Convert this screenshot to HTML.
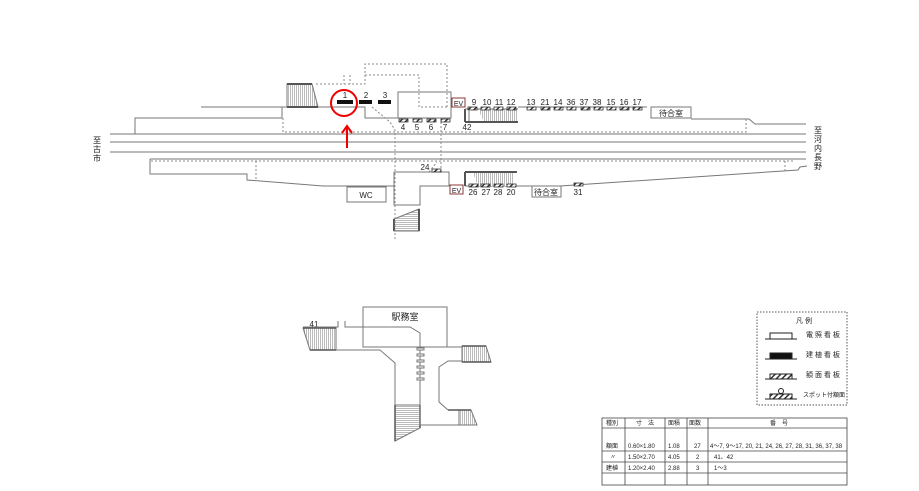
<!DOCTYPE html>
<html><head><meta charset="utf-8"><style>
html,body{margin:0;padding:0;background:#fff;}
svg{display:block;font-family:"Liberation Sans","Noto Sans CJK JP",sans-serif;}
</style></head><body>
<svg width="919" height="491" viewBox="0 0 919 491" xmlns="http://www.w3.org/2000/svg">
<defs>
<pattern id="vs" width="2" height="4" patternUnits="userSpaceOnUse"><rect width="2" height="4" fill="#fff"/><rect width="1" height="4" fill="#bbb"/></pattern>
<pattern id="hs" width="4" height="2" patternUnits="userSpaceOnUse"><rect width="4" height="2" fill="#fff"/><rect width="4" height="1" fill="#bbb"/></pattern>
<pattern id="hatch" width="4" height="4" patternUnits="userSpaceOnUse" patternTransform="rotate(45)"><rect width="4" height="4" fill="#fff"/><rect width="1.5" height="4" fill="#333"/></pattern>
</defs>
<g fill="none" stroke="#777" stroke-width="1">
<line x1="110" y1="134" x2="806" y2="134"/>
<line x1="110" y1="142" x2="806" y2="142"/>
<line x1="110" y1="152" x2="806" y2="152"/>
<polyline points="201,107 282,107 282,118 135,118 135,134"/>
<polyline points="282,107 365,107 365,118 398,118"/>
<rect x="398" y="92" width="53" height="26"/>
<polyline points="518,107 647,107"/>
<polyline points="691,119 749,119 755,124 806,124"/>
<rect x="651" y="107" width="40" height="11"/>
<polygon points="287,84 312,84 318,107 287,107" fill="url(#vs)"/>
<line x1="287" y1="84" x2="312" y2="84" stroke="#555" stroke-width="2"/>
<line x1="287" y1="107" x2="318" y2="107" stroke="#555" stroke-width="2"/>
<polygon points="478,109 518,109 518,122 484,122" fill="url(#vs)" stroke="none"/>
<line x1="465" y1="109" x2="465" y2="122" stroke="#555" stroke-width="2"/>
<line x1="465" y1="122" x2="518" y2="122" stroke="#555" stroke-width="2"/>
<line x1="465" y1="109" x2="518" y2="109"/>
<line x1="469" y1="111" x2="469" y2="121"/>
<polyline points="807,166 800,167 798,170 560,186 465,186"/>
<polyline points="394,186 386,186"/>
<polyline points="150,159 150,174 247,174 247,180 323,186 394,186"/>
<line x1="150" y1="159" x2="806" y2="159"/>
<rect x="347" y="187" width="39" height="15"/>
<polyline points="394,172 449,172 449,186 420,186 420,205 394,205 394,172"/>
<rect x="532" y="186" width="29" height="11"/>
<polygon points="394,219 419,209 419,231 394,231" fill="url(#hs)"/>
<line x1="394" y1="219" x2="394" y2="231" stroke="#555" stroke-width="2"/>
<line x1="419" y1="209" x2="419" y2="231" stroke="#555" stroke-width="2"/>
<polygon points="473,173 513,173 513,186 478,186" fill="url(#vs)" stroke="none"/>
<line x1="465" y1="172" x2="517" y2="172" stroke="#555" stroke-width="2"/>
<line x1="465" y1="172" x2="465" y2="186" stroke="#555" stroke-width="2"/>
</g>
<g fill="none" stroke="#888" stroke-width="1" stroke-dasharray="2,2">
<polyline points="283,118 283,132 746,132 746,119"/>
<polyline points="316,84 365,84 365,64 447,64 447,107"/>
<polyline points="365,75 419,75 419,107 447,107"/>
<polyline points="372,107 390,122 395,130 395,240"/>
<polyline points="441,118 441,145 441,172"/>
<line x1="151" y1="161" x2="795" y2="161"/>
<polyline points="256,161 256,180"/>
<polyline points="785,161 785,172"/>
<line x1="344" y1="75" x2="344" y2="84"/>
<line x1="350" y1="75" x2="350" y2="84"/>
<polyline points="429,172 437,162"/>
</g>
<g fill="#fff" stroke="#8a3a3a" stroke-width="1">
<rect x="452" y="98" width="13" height="9"/>
<rect x="450" y="185" width="13" height="9"/>
</g>
<g font-size="7" fill="#222" text-anchor="middle">
<text x="458.5" y="106">EV</text><text x="456.5" y="193">EV</text>
<text x="366" y="198" font-size="8">WC</text>
</g>
<g fill="#111">
<rect x="337" y="100" width="16" height="4"/>
<rect x="359" y="100" width="13" height="4"/>
<rect x="378" y="100" width="13" height="4"/>
</g>
<g fill="url(#hatch)" stroke="#333" stroke-width="0.8">
<rect x="399" y="119" width="9" height="3"/><rect x="413" y="119" width="9" height="3"/><rect x="427" y="119" width="9" height="3"/><rect x="441" y="119" width="9" height="3"/>
<rect x="468" y="107" width="9" height="3"/><rect x="481" y="107" width="9" height="3"/><rect x="494" y="107" width="9" height="3"/><rect x="507" y="107" width="9" height="3"/>
<rect x="527" y="107" width="9" height="3"/><rect x="541" y="107" width="9" height="3"/><rect x="554" y="107" width="9" height="3"/><rect x="567" y="107" width="9" height="3"/><rect x="581" y="107" width="9" height="3"/><rect x="594" y="107" width="9" height="3"/><rect x="607" y="107" width="9" height="3"/><rect x="620" y="107" width="9" height="3"/><rect x="633" y="107" width="9" height="3"/>
<rect x="469" y="184" width="9" height="3"/><rect x="481" y="184" width="9" height="3"/><rect x="494" y="184" width="9" height="3"/><rect x="507" y="184" width="9" height="3"/>
<rect x="432" y="169" width="9" height="3"/><rect x="574" y="183" width="9" height="3"/>
<rect x="312" y="333" width="4" height="13"/>
</g>
<g font-size="8" fill="#222" text-anchor="middle">
<text x="345" y="98">1</text><text x="366" y="98">2</text><text x="385" y="98">3</text>
<text x="403" y="130">4</text><text x="417" y="130">5</text><text x="431" y="130">6</text><text x="445" y="130">7</text><text x="467" y="130">42</text>
<text x="474" y="105">9</text><text x="487" y="105">10</text><text x="499" y="105">11</text><text x="511" y="105">12</text>
<text x="531" y="105">13</text><text x="545" y="105">21</text><text x="558" y="105">14</text><text x="571" y="105">36</text><text x="584" y="105">37</text><text x="597" y="105">38</text><text x="611" y="105">15</text><text x="624" y="105">16</text><text x="637" y="105">17</text>
<text x="473" y="195">26</text><text x="486" y="195">27</text><text x="498" y="195">28</text><text x="511" y="195">20</text>
<text x="425" y="170">24</text><text x="578" y="195">31</text><text x="314" y="327">41</text>
<text x="671" y="116">待合室</text><text x="546" y="195">待合室</text>
<text x="405" y="320" font-size="9">駅務室</text>
</g>
<g font-size="8" fill="#222" text-anchor="middle">
<text x="97" y="143">至</text><text x="97" y="152">古</text><text x="97" y="161">市</text>
<text x="818" y="133">至</text><text x="818" y="142">河</text><text x="818" y="151">内</text><text x="818" y="160">長</text><text x="818" y="169">野</text>
</g>
<circle cx="344" cy="103" r="13" fill="none" stroke="#e00" stroke-width="2"/>
<line x1="347" y1="148" x2="347" y2="127" stroke="#e00" stroke-width="2"/>
<polyline points="342,133 347,126 352,133" fill="none" stroke="#e00" stroke-width="2"/>
<g fill="none" stroke="#777" stroke-width="1">
<polygon points="303,328 336,328 336,350 310,350" fill="url(#vs)"/>
<line x1="310" y1="350" x2="336" y2="350" stroke="#555" stroke-width="1.5"/>
<line x1="303" y1="328" x2="336" y2="328" stroke="#555" stroke-width="1.5"/>
<polyline points="338,321 338,327 303,327"/>
<polyline points="345,321 345,327 410,327 420,333 420,343"/>
<rect x="363" y="307" width="84" height="40"/>
<polyline points="336,350 380,350 395,363 395,405"/>
<polygon points="395,405 420,405 420,428 395,441" fill="url(#hs)"/>
<line x1="395" y1="405" x2="395" y2="441" stroke="#555" stroke-width="1.5"/>
<line x1="420" y1="405" x2="420" y2="428" stroke="#555" stroke-width="1.5"/>
<line x1="420" y1="343" x2="420" y2="425"/>
<polyline points="420,347 462,347"/>
<polygon points="462,346 486,346 491,362 462,362" fill="url(#vs)"/>
<line x1="462" y1="346" x2="486" y2="346" stroke="#555" stroke-width="1.5"/>
<line x1="462" y1="362" x2="491" y2="362" stroke="#555" stroke-width="1.5"/>
<polyline points="462,361 448,361 439,367 439,402 448,410"/>
<polygon points="459,410 471,410 477,425 459,425" fill="url(#vs)"/>
<line x1="448" y1="410" x2="471" y2="410" stroke="#555" stroke-width="1.5"/>
<line x1="420" y1="425" x2="477" y2="425"/>
</g>
<g fill="#fff" stroke="#777" stroke-width="1">
<rect x="417" y="348" width="7" height="2"/><rect x="417" y="354" width="7" height="2"/><rect x="417" y="360" width="7" height="2"/><rect x="417" y="366" width="7" height="2"/><rect x="417" y="372" width="7" height="2"/><rect x="417" y="378" width="7" height="2"/>
</g>
<rect x="757" y="312" width="90" height="93" fill="none" stroke="#555" stroke-dasharray="1.5,1.5"/>
<g font-size="7" fill="#222">
<text x="796" y="323">凡 例</text>
<text x="806" y="337">電 照 看 板</text>
<text x="806" y="357">建 植 看 板</text>
<text x="806" y="377">額 面 看 板</text>
<text x="803" y="397" font-size="6">スポット付額面</text>
</g>
<g stroke="#222" stroke-width="1">
<line x1="765" y1="339" x2="797" y2="339"/><rect x="770" y="333" width="22" height="6" fill="#fff"/>
<line x1="765" y1="359" x2="797" y2="359"/><rect x="770" y="353" width="22" height="6" fill="#111"/>
<line x1="765" y1="379" x2="797" y2="379"/><rect x="770" y="374" width="22" height="5" fill="url(#hatch)"/>
<line x1="765" y1="399" x2="797" y2="399"/><rect x="770" y="394" width="22" height="5" fill="url(#hatch)"/>
<circle cx="781" cy="391" r="2.5" fill="#fff"/>
</g>
<g fill="none" stroke="#444" stroke-width="0.8">
<rect x="602" y="418" width="245" height="67"/>
<line x1="602" y1="428" x2="847" y2="428"/>
<line x1="602" y1="451" x2="847" y2="451"/>
<line x1="602" y1="462" x2="847" y2="462"/>
<line x1="602" y1="473" x2="847" y2="473"/>
<line x1="625" y1="418" x2="625" y2="485"/>
<line x1="665" y1="418" x2="665" y2="485"/>
<line x1="687" y1="418" x2="687" y2="485"/>
<line x1="708" y1="418" x2="708" y2="485"/>
</g>
<g font-size="6" fill="#222">
<text x="606" y="425">種別</text><text x="636" y="425">寸　法</text><text x="668" y="425">面積</text><text x="689" y="425">面数</text><text x="770" y="425">番　号</text>
<text x="606" y="448">額面</text><text x="628" y="448">0.60×1.80</text><text x="668" y="448">1.08</text><text x="694" y="448">27</text><text x="710" y="448">4～7, 9～17, 20, 21, 24, 26, 27, 28, 31, 36, 37, 38</text>
<text x="610" y="459">〃</text><text x="628" y="459">1.50×2.70</text><text x="668" y="459">4.05</text><text x="696" y="459">2</text><text x="714" y="459">41、42</text>
<text x="606" y="470">建植</text><text x="628" y="470">1.20×2.40</text><text x="668" y="470">2.88</text><text x="696" y="470">3</text><text x="714" y="470">1～3</text>
</g>
</svg>
</body></html>
